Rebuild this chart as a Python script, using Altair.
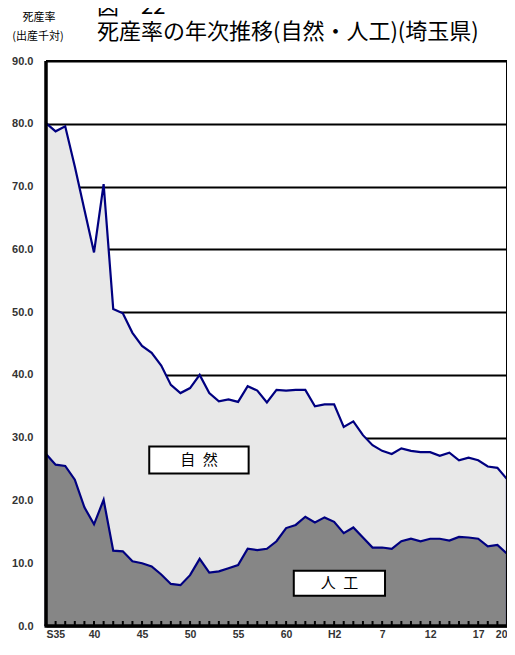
import altair as alt
import pandas as pd

# ---- data ----
year_idx = list(range(49))  # S35 (1960) ... H20 (2008)
total_rate = [80.1, 78.8, 79.6, 73.2, 66.3, 59.5, 70.4, 50.5, 49.8, 46.7,
              44.6, 43.5, 41.5, 38.4, 37.1, 37.9, 40.0, 37.1, 35.8, 36.1,
              35.7, 38.2, 37.5, 35.6, 37.6, 37.5, 37.6, 37.6, 35.0, 35.3,
              35.3, 31.7, 32.6, 30.4, 28.8, 27.9, 27.4, 28.3, 27.9, 27.7,
              27.7, 27.1, 27.6, 26.4, 26.8, 26.4, 25.4, 25.2, 23.4]
artificial_rate = [27.4, 25.7, 25.5, 23.3, 18.9, 16.2, 20.1, 12.0, 11.9, 10.3,
                   10.0, 9.5, 8.2, 6.7, 6.5, 8.1, 10.7, 8.5, 8.7, 9.2,
                   9.7, 12.3, 12.1, 12.3, 13.5, 15.6, 16.1, 17.4, 16.5, 17.3,
                   16.6, 14.8, 15.7, 14.1, 12.5, 12.5, 12.3, 13.5, 13.9, 13.5,
                   13.9, 13.9, 13.6, 14.2, 14.1, 13.9, 12.7, 12.9, 11.5]
tick_idx = [0, 5, 10, 15, 20, 25, 30, 35, 40, 45, 48]
tick_labels = ["S35", "40", "45", "50", "55", "60", "H2", "7", "12", "17", "20"]
y_ticks = [0, 10, 20, 30, 40, 50, 60, 70, 80, 90]

box_text = ["自\u2002然", "人\u2002工"]
box_x0 = [10.75, 25.8]
box_x1 = [21.1, 35.3]
box_y0 = [24.3, 4.8]
box_y1 = [28.6, 8.8]

title_main = "死産率の年次推移(自然・人工)(埼玉県)"
title_fig = "図－22"
ytitle1 = "死産率"
ytitle2 = "(出産千対)"

PL, PT = 38, 53
W, H = 461, 565
JP = "Noto Sans CJK JP"
NUM = "Liberation Sans"

df = pd.DataFrame({"idx": year_idx, "total": total_rate, "artificial": artificial_rate})
one = pd.DataFrame({"k": [0]})
boxes = pd.DataFrame({"t": box_text, "x0": box_x0, "x1": box_x1, "y0": box_y0, "y1": box_y1})
boxes["xc"] = (boxes.x0 + boxes.x1) / 2
boxes["yc"] = (boxes.y0 + boxes.y1) / 2

xs = alt.Scale(domain=[0, 48], nice=False, zero=False)
ys = alt.Scale(domain=[0, 90], nice=False)

label_expr = " : ".join(f"datum.value == {i} ? '{t}'" for i, t in zip(tick_idx, tick_labels)) + " : ''"

x_axis = alt.Axis(values=tick_idx, labelExpr=label_expr, title=None, grid=False,
                  tickSize=0, domain=False, labelPadding=3, labelFontSize=10.5,
                  labelFontWeight="bold", labelColor="#333333", labelFont=NUM)
y_axis = alt.Axis(values=y_ticks, format=".1f", title=None, grid=True,
                  gridColor="black", gridWidth=2, gridOpacity=1, tickSize=0,
                  domain=False, labelPadding=13, labelFontSize=11,
                  labelFontWeight="bold", labelColor="#333333", labelFont=NUM)

base = alt.Chart(df)

total_area = base.mark_area(fill="#e8e8e8", stroke="#000080", strokeWidth=2.2).encode(
    x=alt.X("idx:Q", scale=xs, axis=x_axis),
    y=alt.Y("total:Q", scale=ys, axis=y_axis),
)
art_area = base.mark_area(fill="#868686", stroke="#000080", strokeWidth=2.2).encode(
    x=alt.X("idx:Q", scale=xs),
    y=alt.Y("artificial:Q", scale=ys),
)
ticks = base.mark_rule(color="black", strokeWidth=2).encode(
    x=alt.X("idx:Q", scale=xs),
    y=alt.value(H),
    y2=alt.value(H - 5),
)

box_rect = alt.Chart(boxes).mark_rect(fill="white", stroke="black", strokeWidth=2).encode(
    x=alt.X("x0:Q", scale=xs), x2="x1:Q",
    y=alt.Y("y0:Q", scale=ys), y2="y1:Q",
)
box_lbl = alt.Chart(boxes).mark_text(font=JP, fontSize=15, color="black", baseline="middle").encode(
    x=alt.X("xc:Q", scale=xs), y=alt.Y("yc:Q", scale=ys), text="t:N",
)

frame_left = alt.Chart(one).mark_rule(color="black", strokeWidth=3.5).encode(
    x=alt.value(0), y=alt.value(0), y2=alt.value(H))
frame_bottom = alt.Chart(one).mark_rule(color="black", strokeWidth=3.5).encode(
    x=alt.value(-1.5), x2=alt.value(W), y=alt.value(H))
frame_right = alt.Chart(one).mark_rule(color="black", strokeWidth=2).encode(
    x=alt.value(W), y=alt.value(0), y2=alt.value(H))
frame_top = alt.Chart(one).mark_rule(color="black", strokeWidth=2).encode(
    x=alt.value(0), x2=alt.value(W), y=alt.value(0))

def txt(s, x, y, size, align="left"):
    return alt.Chart(one).mark_text(font=JP, fontSize=size, align=align, baseline="middle",
                                    color="black").encode(
        x=alt.value(x), y=alt.value(y), text=alt.value(s))

# positions relative to the plot's top-left corner
t_fig = txt(title_fig, 97 - 8 - PL, 7 - 8 - PT, 22)
t_main = txt(title_main, 97 - 8 - PL, 32 - 8 - PT, 22)
t_y1 = txt(ytitle1, 39 - 8 - PL, 17.5 - 8 - PT, 11, align="center")
t_y2 = txt(ytitle2, 38 - 8 - PL, 36.5 - 8 - PT, 11, align="center")

chart = alt.layer(
    total_area, art_area, ticks, box_rect, box_lbl,
    frame_left, frame_bottom, frame_right, frame_top,
    t_fig, t_main, t_y1, t_y2,
).properties(
    width=W, height=H,
    autosize=alt.AutoSizeParams(type="none"),
    padding={"left": PL, "top": PT, "right": 0, "bottom": 15},
).configure_view(stroke=None).configure(background="white")

chart.save("out.html", embed_options={"renderer": "svg", "actions": False})
